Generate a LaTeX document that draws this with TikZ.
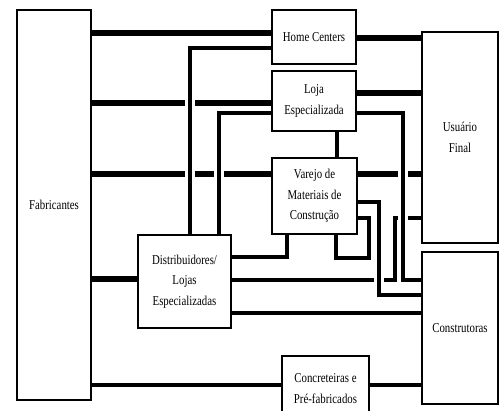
\documentclass[tikz,border=0pt]{standalone}
\usepackage{fontspec}
\setmainfont{Liberation Serif}[FakeStretch=0.8]
\usetikzlibrary{backgrounds}

\begin{document}
\begin{tikzpicture}[
						x=0.02cm,
						y=-0.02cm,
						caixa/.style={draw, line width=0.045cm, fill=white, align=center, inner sep=0pt, font=\fontsize{7.7}{11.7}\selectfont},
						canal/.style={line width=0.105cm},
						canal medio/.style={line width=0.085cm},
						canal fino/.style={line width=0.07cm},
						ponte/.style={preaction={draw=white, line width=0.2cm}}
					]
					\useasboundingbox (0,0) rectangle (500,411);
					\node[caixa, minimum width=1.48cm, minimum height=7.8cm] (fab) at (54,205) {Fabricantes};
					\node[caixa, minimum width=1.68cm, minimum height=1.08cm] (home) at (314,37) {Home Centers};
					\node[caixa, minimum width=1.68cm, minimum height=1.2cm] (loja) at (314,101) {Loja\\Especializada};
					\node[caixa, minimum width=1.7cm, minimum height=1.52cm] (varejo) at (314.5,196) {Varejo de\\Materiais de\\Construção};
					\node[caixa, minimum width=1.86cm, minimum height=1.86cm] (distrib) at (184.5,281.5) {Distribuidores/\\Lojas\\Especializadas};
					\node[caixa, minimum width=1.74cm, minimum height=1.3cm] (concr) at (325.5,388.5) {Concreteiras e\\Pré-fabricados};
					\node[caixa, minimum width=1.52cm, minimum height=4.22cm] (usuario) at (460,137.5) {Usuário\\Final};
					\node[caixa, minimum width=1.52cm, minimum height=3.04cm] (constr) at (460,328) {Construtoras};
					\begin{scope}[on background layer]
						\draw[canal] (fab.east |- 0,33) -- (home.west |- 0,33);
						\draw[canal] (fab.east |- 0,103) -- (loja.west |- 0,103);
						\draw[canal] (fab.east |- 0,174) -- (varejo.west |- 0,174);
						\draw[canal] (fab.east |- 0,279) -- (distrib.west |- 0,279);
						\draw[canal medio] (fab.east |- 0,385) -- (concr.west |- 0,385);
						\draw[canal] (home.east |- 0,38) -- (usuario.west |- 0,38);
						\draw[canal] (loja.east |- 0,93) -- (usuario.west |- 0,93);
						\draw[canal] (varejo.east |- 0,174) -- (usuario.west |- 0,174);
						\draw[canal medio] (loja.south -| 337,0) -- (varejo.north -| 337,0);
						\draw[canal fino] (distrib.east |- 0,257) -| (varejo.south -| 287,0);
						\draw[canal medio] (distrib.east |- 0,313) -- (constr.west |- 0,313);
						\draw[canal medio] (concr.east |- 0,385) -- (constr.west |- 0,385);
						\draw[canal fino] (varejo.east |- 0,218) -| (369,258) -| (varejo.south -| 336,0);
						\draw[canal medio] (distrib.east |- 0,280) -| (395,218) -- (usuario.west |- 0,218);
						\draw[canal fino, ponte] (distrib.north -| 190,0) |- (home.west |- 0,48);
						\draw[canal fino, ponte] (distrib.north -| 219,0) |- (loja.west |- 0,113);
						\draw[canal fino, ponte] (loja.east |- 0,113) -| (403,280) -- (constr.west |- 0,280);
						\draw[canal fino, ponte] (varejo.east |- 0,202) -| (379,295) -- (constr.west |- 0,295);
					\end{scope}
				\end{tikzpicture}
\end{document}
